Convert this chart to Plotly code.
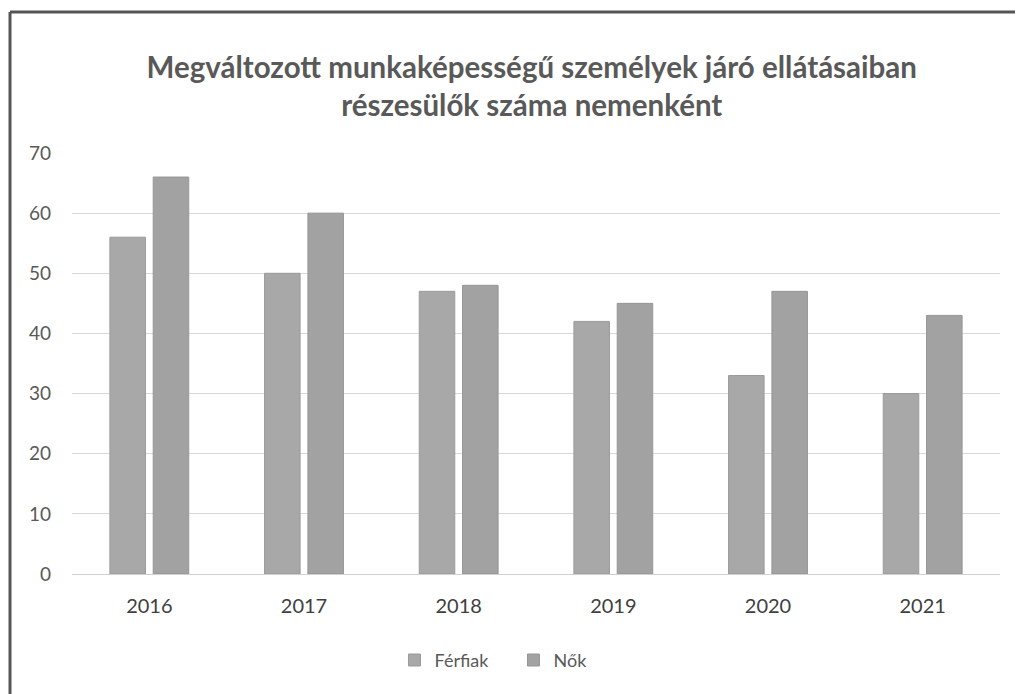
import plotly.graph_objects as go

years = ['2016', '2017', '2018', '2019', '2020', '2021']
ferfiak = [56, 50, 47, 42, 33, 30]
nok = [66, 60, 48, 45, 47, 43]

font_main = 'Lato, Open Sans, sans-serif'
txt = '#595959'

fig = go.Figure()
fig.add_trace(go.Bar(x=years, y=ferfiak, name='Férfiak',
                     marker=dict(color='#a8a8a8', line=dict(color='#9a9a9a', width=1))))
fig.add_trace(go.Bar(x=years, y=nok, name='Nők',
                     marker=dict(color='#a2a2a2', line=dict(color='#959595', width=1))))

# page has an 8px body margin, so the figure is a bit smaller than the window
fig.update_layout(
    width=1015, height=686,
    margin=dict(l=64, r=23, t=145, b=120),
    paper_bgcolor='white', plot_bgcolor='white',
    barmode='group', bargap=0.44, bargroupgap=0.18,
    title=dict(text='<b>Megváltozott munkaképességű személyek járó ellátásaiban<br>részesülők száma nemenként</b>',
               x=0.516, xanchor='center', y=0.898, yanchor='middle',
               font=dict(family=font_main, size=29.5, color=txt)),
    font=dict(family=font_main, color=txt, size=18),
    legend=dict(orientation='h', x=0.3475, xanchor='left', y=-0.205, yanchor='middle',
                font=dict(size=18, color=txt), itemwidth=30,
                entrywidth=74, entrywidthmode='pixels'),
    showlegend=True,
)
fig.update_yaxes(range=[0, 70], dtick=10, gridcolor='#d9d9d9', gridwidth=1,
                 zeroline=False, tickfont=dict(size=19, color=txt), ticklen=0,
                 ticklabelstandoff=20)
fig.update_xaxes(showline=True, linecolor='#d0d0d0', linewidth=1,
                 tickfont=dict(size=20, color='#404040'), ticklabelstandoff=14)

# scanned frame: left and top edges only
fig.add_shape(type='line', xref='paper', yref='paper',
              x0=-0.0668, x1=-0.0668, y0=1.335, y1=-0.3,
              line=dict(color='#555555', width=3))
fig.add_shape(type='line', xref='paper', yref='paper',
              x0=-0.0668, x1=1.03, y0=1.335, y1=1.335,
              line=dict(color='#555555', width=3))

fig.write_html('out.html')
